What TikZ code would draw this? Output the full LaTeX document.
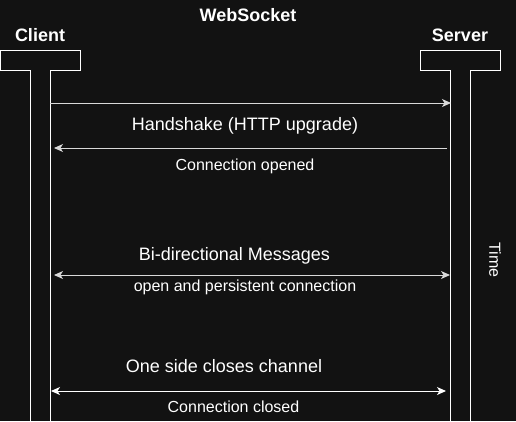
\documentclass[tikz,border=0pt]{standalone}
\usepackage{fontspec}
\setmainfont{Liberation Sans}
\usetikzlibrary{arrows.meta}
\definecolor{bgdark}{HTML}{121212}

\begin{document}
\begin{tikzpicture}[x=1pt, y=-1pt, line width=1pt,
  msg/.style={white!85!black, -{Stealth[length=9pt, width=8pt, inset=2.5pt]}},
  bimsg/.style={white!85!black, {Stealth[length=9pt, width=8pt, inset=2.5pt]}-{Stealth[length=9pt, width=8pt, inset=2.5pt]}},
  lbl/.style={white, inner sep=0pt, font=\fontsize{18}{20}\selectfont},
  sublbl/.style={white, inner sep=0pt, font=\fontsize{16}{18}\selectfont},
  head/.style={white, inner sep=0pt, font=\fontsize{18}{20}\selectfont\bfseries}]
  \fill[bgdark] (0,0) rectangle (516,421);
  \useasboundingbox (0,0) rectangle (516,421);

  % lifelines
  \draw[white] (30,422) |- (0,70) |- (80,50) |- (50,70) -- (50,422);
  \draw[white] (450,422) |- (420,70) |- (500,50) |- (470,70) -- (470,422);

  \node[head] (title) at (248,15.5) {WebSocket};
  \node[head] (client) at (40,35.5) {Client};
  \node[head] (server) at (460,35.5) {Server};

  \coordinate (c1) at (50,103);   \coordinate (s1) at (451,103);
  \coordinate (s2) at (447,148);  \coordinate (c2) at (54,148);
  \coordinate (c3) at (54,275);   \coordinate (s3) at (450,275);
  \coordinate (c4) at (51,391);   \coordinate (s4) at (446,391);

  \draw[msg] (c1) -- (s1);
  \draw[msg] (s2) -- (c2);
  \draw[bimsg] (c3) -- (s3);
  \draw[bimsg, white] (c4) -- (s4);

  \node[lbl] (shake) at (245,126) {Handshake (HTTP upgrade)};
  \node[sublbl] (opened) at (245,166.5) {Connection opened};
  \node[lbl] (bidi) at (234.5,256) {Bi-directional Messages};
  \node[sublbl] (persist) at (245,287) {open and persistent connection};
  \node[lbl] (closes) at (224,366) {One side closes channel};
  \node[sublbl] (closed) at (233.5,406.5) {Connection closed};

  \node[sublbl, rotate=-90] (time) at (495,260) {Time};
\end{tikzpicture}
\end{document}
